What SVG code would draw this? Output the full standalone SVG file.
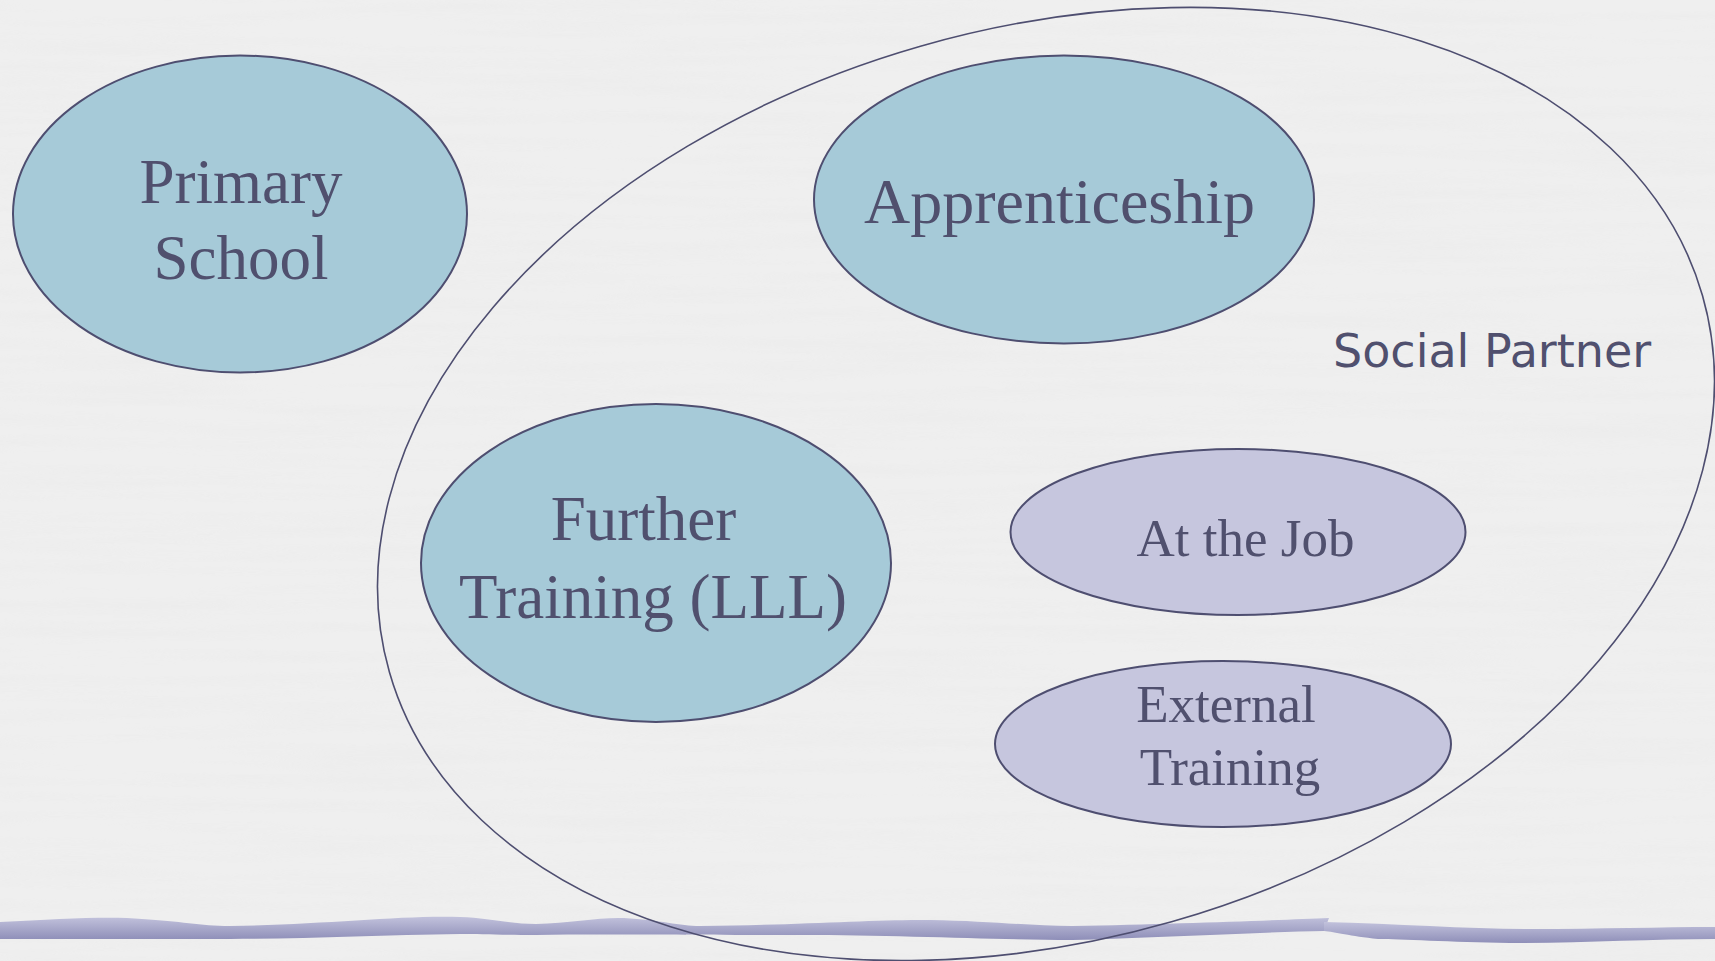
<svg xmlns="http://www.w3.org/2000/svg" width="1715" height="961" viewBox="0 0 1715 961">
<defs>
<linearGradient id="band" x1="0" y1="0" x2="0" y2="1">
<stop offset="0" stop-color="#c2c2dc"/>
<stop offset="1" stop-color="#8e8eb8"/>
</linearGradient>
<filter id="paper" x="0" y="0" width="100%" height="100%">
<feTurbulence type="fractalNoise" baseFrequency="0.004 0.08" numOctaves="3" seed="4" result="n"/>
<feColorMatrix in="n" type="matrix" values="0 0 0 0 0.82  0 0 0 0 0.82  0 0 0 0 0.82  0 0 0 1.2 -0.45"/>
</filter>
<style>
.node{stroke:#4e4e70;stroke-width:2}
.teal{fill:#a6cad8}
.lav{fill:#c6c6de}
.lbl{font-family:"Liberation Serif","Times New Roman",serif;fill:#50506e;text-anchor:middle}
.sp{font-family:"DejaVu Sans",Verdana,sans-serif;fill:#50506e;font-size:46px}
</style>
</defs>
<rect width="1715" height="961" fill="#efefef"/>
<rect width="1715" height="961" filter="url(#paper)" opacity="0.7"/>
<g id="band-decoration">
<path d="M0,922 C60,919 110,916 142,919 C180,921 200,926 230,926 C320,925 400,915 460,917 C490,918 510,924 536,924 C570,923 600,917 624,918 C660,920 680,926 700,926 C800,925 880,919 930,920 C990,921 1030,926 1072,926 C1180,924 1280,920 1329,918 L1324,931 C1260,932 1150,938 1072,940 C1000,940 900,935 800,935 C650,935 600,934 536,935 C500,935 480,934 460,934 C380,935 300,939 230,939 C150,939 60,939 0,939 Z" fill="url(#band)"/>
<path d="M1324,922 C1400,924 1470,929 1532,929 C1600,929 1660,927 1715,927 L1715,939 C1650,939 1580,943 1510,943 C1450,942 1400,939 1378,939 C1350,936 1335,932 1324,931 Z" fill="url(#band)"/>
</g>
<g id="social-partner">
<ellipse cx="1046" cy="484" rx="683" ry="455.5" transform="rotate(-16 1046 484)" fill="none" stroke="#4e4e70" stroke-width="1.6"/>
<text class="sp" x="1333" y="367">Social Partner</text>
</g>
<g id="primary-school">
<ellipse class="node teal" cx="240" cy="214" rx="227" ry="158.5"/>
<text class="lbl" font-size="63" x="241" y="203">Primary</text>
<text class="lbl" font-size="63" x="241" y="279">School</text>
</g>
<g id="apprenticeship">
<ellipse class="node teal" cx="1064" cy="199.5" rx="250" ry="144"/>
<text class="lbl" font-size="64" x="1059.5" y="223">Apprenticeship</text>
</g>
<g id="further-training">
<ellipse class="node teal" cx="656" cy="563" rx="235" ry="159"/>
<text class="lbl" font-size="63" x="643.5" y="540">Further</text>
<text class="lbl" font-size="63" x="653" y="618">Training (LLL)</text>
</g>
<g id="at-the-job">
<ellipse class="node lav" cx="1238" cy="532" rx="227.5" ry="83"/>
<text class="lbl" font-size="53" x="1245.5" y="556">At the Job</text>
</g>
<g id="external-training">
<ellipse class="node lav" cx="1223" cy="744" rx="228" ry="83"/>
<text class="lbl" font-size="53" x="1226" y="722">External</text>
<text class="lbl" font-size="53" x="1230" y="785">Training</text>
</g>
<g id="connectors"></g>
</svg>
